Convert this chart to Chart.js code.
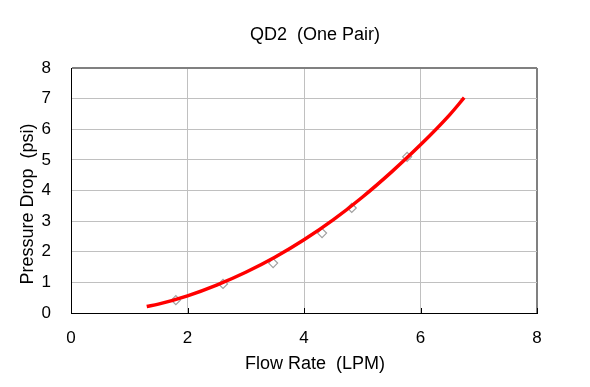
<!DOCTYPE html>
<html>
<head>
<meta charset="utf-8">
<script src="https://cdn.jsdelivr.net/npm/chart.js@4/dist/chart.umd.min.js"></script>
<style>
  body { margin: 0; background: #fff; }
  canvas { display: block; }
</style>
</head>
<body>
<canvas id="qdChart" width="590" height="387"></canvas>
<script>
// Measured points (open diamonds)
const flowMeasured = [1.8, 2.61, 3.47, 4.31, 4.82, 5.77];
const dropMeasured = [0.42, 0.95, 1.63, 2.61, 3.43, 5.1];

// Fitted curve
const flowCurve = [1.3, 1.5, 2, 2.5, 3, 3.5, 4, 4.5, 5, 5.5, 6, 6.5, 6.75];
const dropCurve = [0.21, 0.29, 0.56, 0.91, 1.33, 1.82, 2.39, 3.04, 3.78, 4.6, 5.49, 6.47, 7.03];

const chartTitle = "QD2  (One Pair)";
const xTitle = "Flow Rate  (LPM)";
const yTitle = "Pressure Drop  (psi)";

const FONT = "'Liberation Sans', Arial, sans-serif";

// Titles and the little inside ticks on the x axis
const titlesPlugin = {
  id: "titles",
  afterDraw(chart) {
    const ctx = chart.ctx;
    const xs = chart.scales.x;
    const area = chart.chartArea;
    ctx.save();
    // inside tick marks
    ctx.strokeStyle = "#000";
    ctx.lineWidth = 1;
    xs.ticks.forEach((t) => {
      const px = Math.round(xs.getPixelForValue(t.value)) + 0.5;
      ctx.beginPath();
      ctx.moveTo(px, area.bottom);
      ctx.lineTo(px, area.bottom - 5);
      ctx.stroke();
    });
    ctx.fillStyle = "#000";
    ctx.textAlign = "center";
    ctx.textBaseline = "middle";
    ctx.font = "18px " + FONT;
    ctx.fillText(chartTitle, 315, 35);
    ctx.fillText(xTitle, 315, 364);
    ctx.translate(28, 204);
    ctx.rotate(-Math.PI / 2);
    ctx.fillText(yTitle, 0, 0);
    ctx.restore();
  },
};

const ctx = document.getElementById("qdChart").getContext("2d");
new Chart(ctx, {
  type: "scatter",
  data: {
    datasets: [
      {
        label: "Fit",
        data: flowCurve.map((x, i) => ({ x, y: dropCurve[i] })),
        showLine: true,
        borderColor: "#ff0000",
        borderWidth: 3.5,
        pointRadius: 0,
        cubicInterpolationMode: "monotone",
        fill: false,
      },
      {
        label: "Measured",
        data: flowMeasured.map((x, i) => ({ x, y: dropMeasured[i] })),
        showLine: false,
        pointStyle: "rectRot",
        pointRadius: 4.5,
        borderWidth: 1.2,
        borderColor: "#a0a0a0",
        backgroundColor: "rgba(255,255,255,0)",
      },
    ],
  },
  options: {
    responsive: false,
    animation: false,
    devicePixelRatio: 1,
    layout: { padding: { left: 0, right: 53, top: 68, bottom: 0 } },
    plugins: {
      legend: { display: false },
      title: { display: false },
      tooltip: { enabled: false },
    },
    scales: {
      x: {
        type: "linear",
        min: 0,
        max: 8,
        afterFit: (s) => { s.height = 74; },
        ticks: {
          stepSize: 2,
          color: "#000",
          padding: 15,
          font: { family: FONT, size: 17 },
        },
        grid: {
          color: (c) => (c.tick && c.tick.value === 8 ? "#808080" : "#c0c0c0"),
          lineWidth: (c) => (c.tick && c.tick.value === 8 ? 2 : 1),
          drawTicks: false,
        },
        border: { color: "#000", width: 1 },
      },
      y: {
        type: "linear",
        min: 0,
        max: 8,
        afterFit: (s) => { s.width = 71; },
        ticks: {
          stepSize: 1,
          color: "#000",
          padding: 20,
          font: { family: FONT, size: 17 },
        },
        grid: {
          color: (c) => (c.tick && c.tick.value === 8 ? "#808080" : "#c0c0c0"),
          lineWidth: (c) => (c.tick && c.tick.value === 8 ? 2 : 1),
          drawTicks: false,
        },
        border: { color: "#000", width: 1 },
      },
    },
  },
  plugins: [titlesPlugin],
});
</script>
</body>
</html>
